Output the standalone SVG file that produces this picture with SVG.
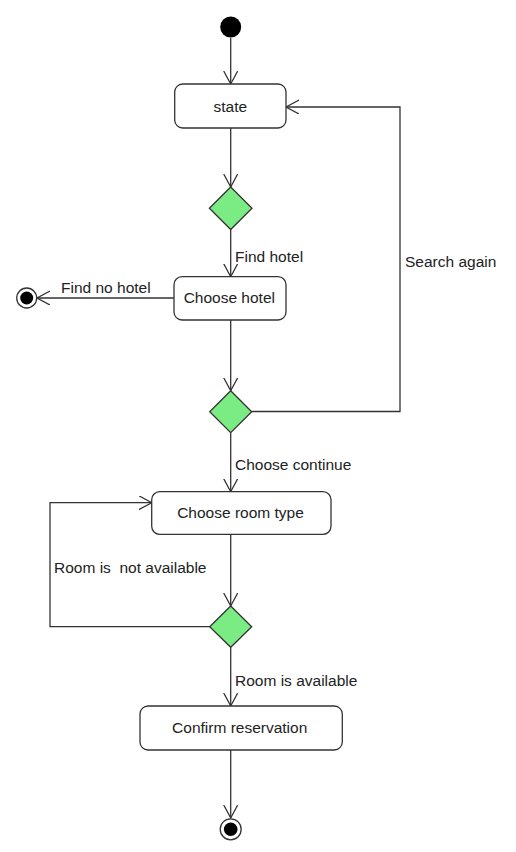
<svg xmlns="http://www.w3.org/2000/svg" width="516" height="852" viewBox="0 0 516 852">
<defs>
<marker id="arr" markerWidth="16" markerHeight="16" refX="13" refY="7" orient="auto" markerUnits="userSpaceOnUse">
<path d="M0,0 L13,7 L0,14" fill="none" stroke="#333" stroke-width="1.3"/>
</marker>
<style>
.box{fill:#fff;stroke:#333;stroke-width:1.3}
.dec{fill:#7bec84;stroke:#333;stroke-width:1.3}
.ln{fill:none;stroke:#333;stroke-width:1.3;marker-end:url(#arr)}
.t{font-family:"Liberation Sans",Arial,sans-serif;font-size:15.5px;fill:#222}
.c{text-anchor:middle}
</style>
</defs>
<rect width="516" height="852" fill="#fff"/>
<g id="connectors">
<path class="ln" d="M230.7,38 V84"/>
<path class="ln" d="M230.7,128 V187"/>
<path class="ln" d="M230.7,229.5 V276.7"/>
<path class="ln" d="M174,298 H37"/>
<path class="ln" d="M230.7,320 V390.7"/>
<path class="ln" d="M251.7,411.5 H400 V107 H286"/>
<path class="ln" d="M230.7,432.7 V491.7"/>
<path class="ln" d="M230.7,534.3 V606"/>
<path class="ln" d="M210,626.7 H50 V502.7 H151.7"/>
<path class="ln" d="M230.7,647.3 V706"/>
<path class="ln" d="M230.7,750 V818"/>
<text class="t" x="235" y="262">Find hotel</text>
<text class="t" x="61" y="293">Find no hotel</text>
<text class="t" x="405" y="267">Search again</text>
<text class="t" x="235" y="470">Choose continue</text>
<text class="t" x="54" y="573" xml:space="preserve">Room is  not available</text>
<text class="t" x="235" y="686">Room is available</text>
</g>
<g id="start"><circle cx="230.7" cy="27" r="10.5" fill="#000"/></g>
<g id="state"><rect class="box" x="174.7" y="84" width="111.3" height="44" rx="8"/><text class="t c" x="230.3" y="112">state</text></g>
<g id="decision1"><polygon class="dec" points="230.7,187 252,208.3 230.7,229.5 209.4,208.3"/></g>
<g id="chooseHotel"><rect class="box" x="174" y="276.7" width="112" height="43.3" rx="8"/><text class="t c" x="229.3" y="303">Choose hotel</text></g>
<g id="endNoHotel"><circle cx="26.7" cy="298" r="10" fill="#fff" stroke="#333" stroke-width="1.3"/><circle cx="26.7" cy="298" r="6.5" fill="#000"/></g>
<g id="decision2"><polygon class="dec" points="230.7,390.7 251.7,411.7 230.7,432.7 209.7,411.7"/></g>
<g id="chooseRoom"><rect class="box" x="151.7" y="491.7" width="179.3" height="42.6" rx="8"/><text class="t c" x="240.5" y="518">Choose room type</text></g>
<g id="decision3"><polygon class="dec" points="230.7,606 251.7,626.7 230.7,647.3 209.7,626.7"/></g>
<g id="confirm"><rect class="box" x="140" y="706" width="202.3" height="44" rx="8"/><text class="t c" x="239.7" y="733">Confirm reservation</text></g>
<g id="end"><circle cx="230.7" cy="829.3" r="10.5" fill="#fff" stroke="#333" stroke-width="1.3"/><circle cx="230.7" cy="829.3" r="6.8" fill="#000"/></g>
</svg>
